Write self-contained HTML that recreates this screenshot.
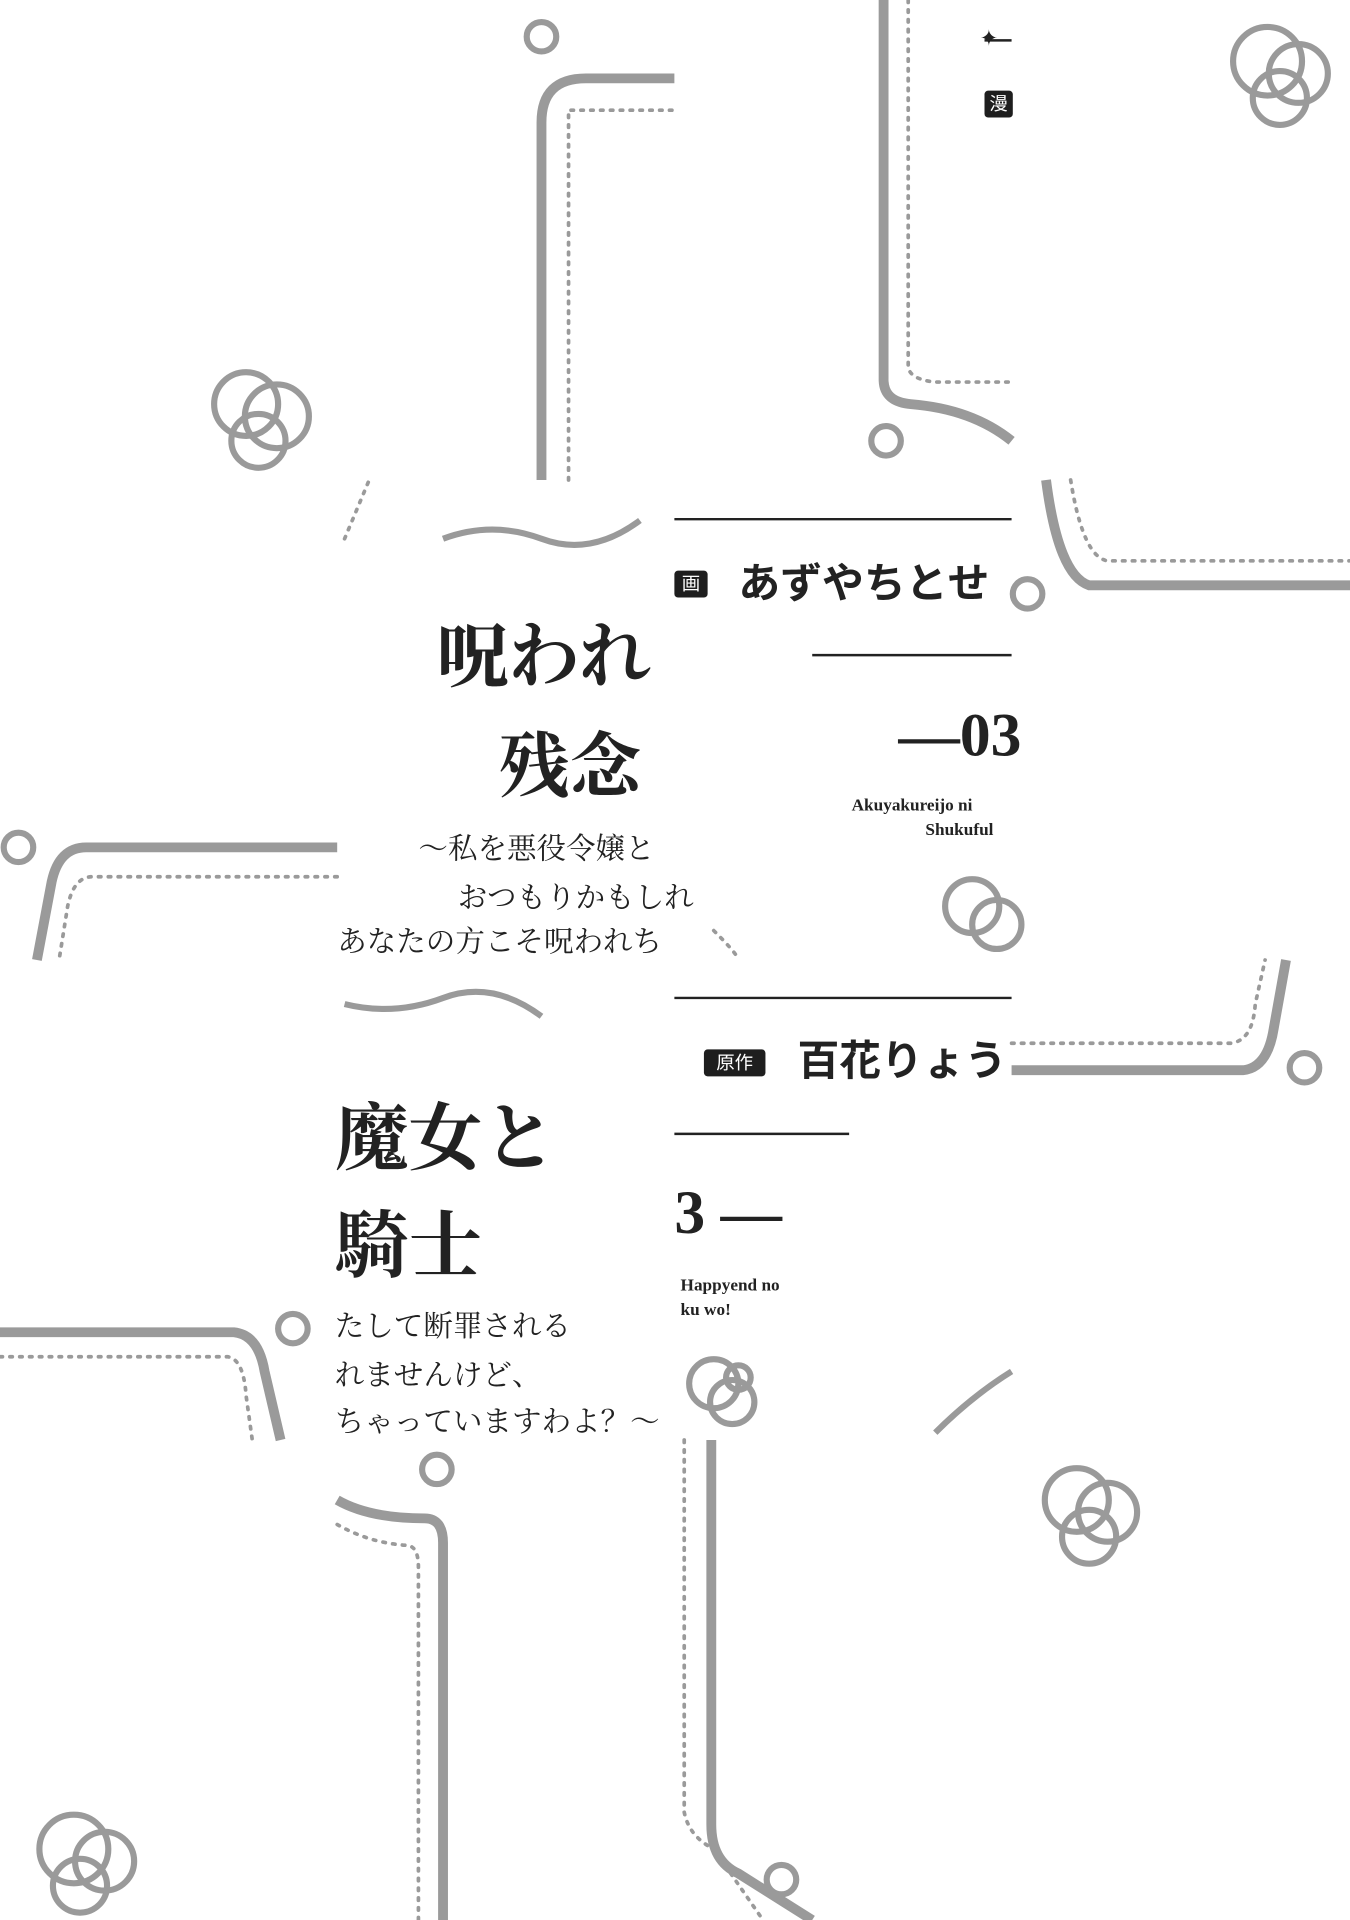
<!DOCTYPE html>
<html><head><meta charset="utf-8"><style>
html,body{margin:0;padding:0;background:#fff;overflow:hidden}
#s{position:absolute;left:0;top:0;width:1097px;height:1568px;transform-origin:0 0;transform:scale(1.23063,1.22449);background:#fff}
.t{position:absolute;white-space:nowrap;font-family:"Liberation Serif","Noto Serif CJK SC","Noto Sans CJK JP",serif;color:#222;line-height:1}
.g{font-family:"Liberation Sans","Noto Sans CJK JP",sans-serif;font-weight:bold}
.b{position:absolute;background:#1e1e1e;color:#fff;font-family:"Noto Sans CJK JP",sans-serif;font-size:15px;line-height:22px;padding:0 10px;border-radius:3px}
svg{position:absolute;left:0;top:0}
</style></head><body><div id="s">
<svg width="1097" height="1568" viewBox="0 0 1097 1568" fill="none">
<g stroke="#9a9a9a" stroke-width="8">
<path d="M440 392 V100 Q440 64 476 64 H548"/>
<path d="M718 0 V310 Q718 328 740 330 Q790 334 822 360"/>
<path d="M850 392 Q860 470 885 478 H1097"/>
<path d="M274 692 H70 Q48 692 42 720 L30 784"/>
<path d="M822 874 H1010 Q1030 872 1035 840 L1045 784"/>
<path d="M0 1088 H190 Q210 1090 215 1120 L228 1176"/>
<path d="M274 1225 Q300 1240 345 1240 Q360 1240 360 1260 V1568"/>
<path d="M578 1176 V1490 Q578 1520 600 1530 L660 1568"/>
</g>
<g stroke="#9a9a9a" stroke-width="3" stroke-dasharray="2 6" stroke-linecap="round">
<path d="M462 392 V90 H548"/>
<path d="M738 0 V300 Q740 310 760 312 H822"/>
<path d="M870 392 Q880 455 900 458 H1097"/>
<path d="M274 716 H75 Q60 716 55 740 L48 784"/>
<path d="M822 852 H1000 Q1018 850 1020 820 L1028 784"/>
<path d="M0 1108 H185 Q198 1110 200 1140 L205 1176"/>
<path d="M274 1245 Q300 1260 330 1262 Q340 1262 340 1280 V1568"/>
<path d="M556 1176 V1480 Q560 1500 580 1510 L620 1568"/>
<path d="M280 440 L300 392"/><path d="M580 760 Q600 780 600 784"/>
</g>
<g stroke="#9a9a9a" stroke-width="5">
<circle cx="200" cy="330" r="26"/><circle cx="225" cy="340" r="26"/><circle cx="210" cy="360" r="22"/>
<circle cx="1030" cy="50" r="28"/><circle cx="1055" cy="60" r="24"/><circle cx="1040" cy="80" r="22"/>
<circle cx="875" cy="1225" r="26"/><circle cx="900" cy="1235" r="24"/><circle cx="885" cy="1255" r="22"/>
<circle cx="60" cy="1510" r="28"/><circle cx="85" cy="1520" r="24"/><circle cx="65" cy="1540" r="22"/>
<circle cx="790" cy="740" r="22"/><circle cx="810" cy="755" r="20"/>
<circle cx="580" cy="1130" r="20"/><circle cx="595" cy="1145" r="18"/>
<circle cx="440" cy="30" r="12"/><circle cx="720" cy="360" r="12"/><circle cx="15" cy="692" r="12"/>
<circle cx="835" cy="485" r="12"/><circle cx="1060" cy="872" r="12"/><circle cx="238" cy="1085" r="12"/>
<circle cx="355" cy="1200" r="12"/><circle cx="635" cy="1535" r="12"/><circle cx="600" cy="1125" r="10"/>
<path d="M360 440 Q400 425 440 440 Q480 455 520 425"/>
<path d="M280 820 Q320 830 360 815 Q400 800 440 830"/>
<path d="M760 1170 Q790 1140 822 1120"/>
</g>
<g stroke="#222" stroke-width="2">
<path d="M548 424 H822"/><path d="M548 815 H822"/>
<path d="M660 535 H822"/><path d="M548 926 H690"/>
<path d="M800 33 H822"/>
</g>
</svg>
<div class="t" style="left:796px;top:22px;font-size:18px">✦</div>
<div class="b" style="left:800px;top:74px;padding:0 4px">漫</div>
<div class="t" style="left:355px;top:508px;font-size:58px;font-weight:bold">呪われ</div>
<div class="t" style="left:405px;top:598px;font-size:58px;font-weight:bold">残念</div>
<div class="t" style="left:340px;top:682px;font-size:24px">〜私を悪役令嬢と</div>
<div class="t" style="left:372px;top:722px;font-size:24px">おつもりかもしれ</div>
<div class="t" style="left:274px;top:758px;font-size:24px">あなたの方こそ呪われち</div>
<div class="b" style="left:548px;top:466px;padding:0 6px">画</div>
<div class="t g" style="left:600px;top:460px;font-size:34px">あずやちとせ</div>
<div class="t" style="left:730px;top:575px;font-size:50px;font-weight:bold">—03</div>
<div class="t" style="left:692px;top:652px;font-size:14px;font-weight:bold">Akuyakureijo ni</div>
<div class="t" style="left:752px;top:672px;font-size:14px;font-weight:bold">Shukuful</div>
<div class="t" style="left:272px;top:900px;font-size:60px;font-weight:bold">魔女と</div>
<div class="t" style="left:272px;top:988px;font-size:60px;font-weight:bold">騎士</div>
<div class="t" style="left:272px;top:1072px;font-size:24px">たして断罪される</div>
<div class="t" style="left:272px;top:1112px;font-size:24px">れませんけど、</div>
<div class="t" style="left:272px;top:1150px;font-size:24px">ちゃっていますわよ？〜</div>
<div class="b" style="left:572px;top:857px">原作</div>
<div class="t g" style="left:648px;top:850px;font-size:34px">百花りょう</div>
<div class="t" style="left:548px;top:965px;font-size:50px;font-weight:bold">3 —</div>
<div class="t" style="left:553px;top:1044px;font-size:14px;font-weight:bold">Happyend no</div>
<div class="t" style="left:553px;top:1064px;font-size:14px;font-weight:bold">ku wo!</div>
</div></body></html>
